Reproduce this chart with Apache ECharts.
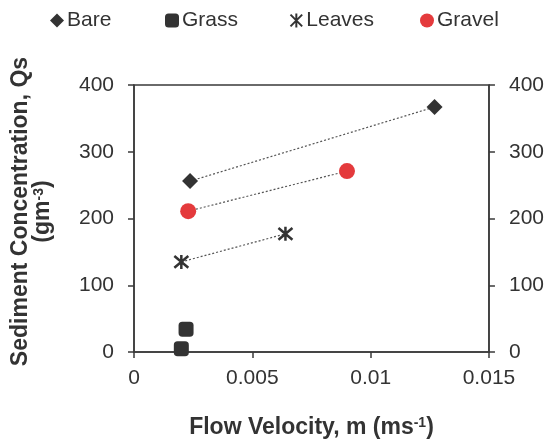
<!DOCTYPE html>
<html>
<head>
<meta charset="utf-8">
<script src="https://cdn.jsdelivr.net/npm/echarts@6/dist/echarts.min.js"></script>
<style>
    html, body {margin: 0; padding: 0; background: #fff;}
    #chart {width: 547px; height: 445px;}
</style>
</head>
<body>
<div id="chart"></div>
<script>
// values: [flow velocity, sediment concentration]
const bare = [[0.00237, 256], [0.0127, 367]]
const grass = [[0.0020, 5], [0.0022, 34]]
const leaves = [[0.0020, 135], [0.0064, 177]]
const gravel = [[0.00229, 211], [0.0090, 271]]
const xTicks = [0, 0.005, 0.01, 0.015]
const yTicks = [0, 100, 200, 300, 400]
const legendNames = ['Bare', 'Grass', 'Leaves', 'Gravel']

const textColor = '#333'
const axisColor = '#3a3a3a'
const font = 'Liberation Sans'
const starPath = 'path://M0,0L10,10M10,0L0,10M5,-1L5,11'

const chart = echarts.init(document.getElementById('chart'))

// dotted trend line between the points of one set
function trend(data) {
    return {
        type: 'line',
        data: data,
        symbol: 'none',
        silent: true,
        z: 1,
        lineStyle: {color: '#555', width: 1.2, type: [2, 2]}
    }
}

function yAxis(pos) {
    return {
        type: 'value',
        position: pos,
        min: yTicks[0],
        max: yTicks[yTicks.length - 1],
        interval: 100,
        axisLine: {show: true, lineStyle: {color: axisColor, width: 1.5}},
        axisTick: {show: true, length: 6, lineStyle: {color: axisColor, width: 1.5}},
        splitLine: {show: false},
        axisLabel: {fontSize: 21, color: textColor, margin: 20, fontFamily: font}
    }
}

const left = yAxis('left')
left.name = 'Sediment Concentration, Qs\n{b|(gm}{s|-3}{b|)}'
left.nameLocation = 'middle'
left.nameGap = 80
left.nameTextStyle = {
    fontSize: 23, fontWeight: 'bold', color: textColor, fontFamily: font, lineHeight: 22,
    padding: [0, 0, 0, 14],
    rich: {
        b: {fontSize: 23, fontWeight: 'bold', color: textColor, fontFamily: font, lineHeight: 22},
        s: {fontSize: 14, color: textColor, fontFamily: font, verticalAlign: 'top', lineHeight: 22}
    }
}
const right = yAxis('right')

// one legend per item so each can sit where it does in the picture
const legendLeft = [45, 160, 283, 415]
const legends = legendNames.map((name, i) => ({
    data: [name],
    top: 5,
    left: legendLeft[i],
    itemWidth: 14,
    itemHeight: 14,
    itemGap: 4,
    textStyle: {fontSize: 21, color: textColor, fontFamily: font, padding: [0, 0, 0, -2]}
}))

const option = {
    backgroundColor: '#fff',
    animation: false,
    grid: {left: 134, right: 58, top: 85, bottom: 93, show: true, borderColor: axisColor, borderWidth: 1.5},
    legend: legends,
    xAxis: {
        type: 'value',
        min: xTicks[0],
        max: xTicks[xTicks.length - 1],
        interval: 0.005,
        name: 'Flow Velocity, m (ms{s|-1})',
        nameLocation: 'middle',
        nameGap: 64,
        nameTextStyle: {
            fontSize: 23, fontWeight: 'bold', color: textColor, fontFamily: font,
            rich: {s: {fontSize: 14, color: textColor, fontFamily: font, verticalAlign: 'top'}}
        },
        axisLine: {show: true, onZero: false, lineStyle: {color: axisColor, width: 1.5}},
        axisTick: {show: true, length: 6, lineStyle: {color: axisColor, width: 1.5}},
        splitLine: {show: false},
        axisLabel: {fontSize: 21, color: textColor, margin: 16, fontFamily: font}
    },
    yAxis: [left, right],
    series: [
        trend(bare),
        trend(gravel),
        trend(leaves),
        {
            name: 'Bare', type: 'scatter', data: bare, symbol: 'diamond', symbolSize: 16, z: 3,
            itemStyle: {color: '#333', opacity: 1}
        },
        {
            name: 'Grass', type: 'scatter', data: grass, symbol: 'roundRect', symbolSize: 15, z: 3,
            itemStyle: {color: '#333', opacity: 1}
        },
        {
            name: 'Leaves', type: 'scatter', data: leaves, symbol: starPath, symbolSize: 14, z: 3,
            itemStyle: {color: 'none', borderColor: '#333', borderWidth: 2.5, opacity: 1}
        },
        {
            name: 'Gravel', type: 'scatter', data: gravel, symbol: 'circle', symbolSize: 16, z: 3,
            itemStyle: {color: '#e43a3c', opacity: 1}
        }
    ]
}

chart.setOption(option)
</script>
</body>
</html>
